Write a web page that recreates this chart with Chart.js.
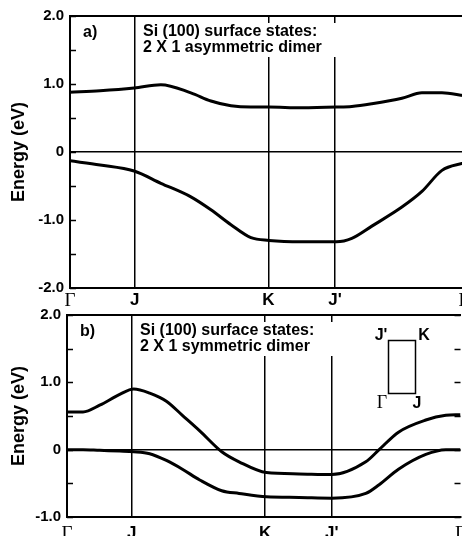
<!DOCTYPE html>
<html>
<head>
<meta charset="utf-8">
<script src="https://cdn.jsdelivr.net/npm/chart.js@4.4.0/dist/chart.umd.min.js"></script>
<style>
  html, body { margin: 0; padding: 0; background: #fff; width: 462px; height: 536px; overflow: hidden; }
  .panel { position: absolute; left: 0; }
  #panelA { top: 0; }
  #panelB { top: 300px; }
</style>
</head>
<body>
<div class="panel" id="panelA"><canvas id="chartA" width="472" height="310"></canvas></div>
<div class="panel" id="panelB"><canvas id="chartB" width="472" height="236"></canvas></div>
<script>
// k-path positions of the symmetry points and their labels
const kPos = [0, 0.97, 2.97, 3.97, 5.9];
const kLabels = ["Γ", "J", "K", "J'", "Γ"];

// a) asymmetric dimer
const asymK     = [0, 0.45, 0.96, 1.36, 1.81, 2.11, 2.41, 2.71, 2.98, 3.46, 3.99, 4.22, 4.52, 4.97, 5.27, 5.57, 5.9];
const asymUpper = [0.88, 0.90, 0.94, 0.99, 0.87, 0.75, 0.68, 0.66, 0.66, 0.65, 0.66, 0.67, 0.71, 0.79, 0.87, 0.87, 0.83];
const asymLower = [-0.13, -0.19, -0.28, -0.46, -0.66, -0.85, -1.07, -1.26, -1.30, -1.32, -1.32, -1.27, -1.09, -0.81, -0.58, -0.27, -0.16];

// b) symmetric dimer
const symK     = [0, 0.24, 0.49, 0.79, 1.0, 1.24, 1.49, 1.73, 1.99, 2.32, 2.58, 2.99, 3.48, 3.97, 4.48, 4.68, 4.97, 5.38, 5.68, 5.9];
const symUpper = [0.56, 0.56, 0.66, 0.82, 0.90, 0.84, 0.72, 0.51, 0.28, -0.03, -0.18, -0.34, -0.36, -0.37, -0.18, 0.0, 0.26, 0.44, 0.51, 0.52];
const symLower = [0.0, 0.0, -0.01, -0.02, -0.03, -0.06, -0.16, -0.29, -0.45, -0.61, -0.65, -0.70, -0.71, -0.72, -0.65, -0.52, -0.29, -0.07, 0.0, 0.0];

const SANS = "'Liberation Sans', Arial, sans-serif";
const SERIF = "'Liberation Serif', 'Times New Roman', serif";

function band(k, e) {
  return {
    data: k.map((x, i) => ({ x: x, y: e[i] })),
    borderColor: "#000",
    borderWidth: 3,
    pointRadius: 0,
    fill: false,
    cubicInterpolationMode: "monotone",
  };
}

// panel texts, minor ticks, inset
function decor(o) {
  return {
    id: "decor",
    afterDraw(chart) {
      const { ctx, chartArea: a, scales: { y } } = chart;
      ctx.save();
      ctx.strokeStyle = "#000";
      ctx.lineWidth = 1.5;
      for (let v = y.min; v <= y.max + 1e-6; v += 0.5) {
        const py = Math.round(y.getPixelForValue(v)) + 0.5;
        ctx.beginPath();
        ctx.moveTo(a.left, py); ctx.lineTo(a.left + 6, py);
        if (o.rightTicks) { ctx.moveTo(a.right, py); ctx.lineTo(a.right - 6, py); }
        ctx.stroke();
      }
      ctx.fillStyle = "#fff";
      ctx.fillRect(a.left + 68, a.top + 7, 202, 34);
      ctx.fillStyle = "#000";
      ctx.font = "bold 16px " + SANS;
      ctx.textBaseline = "middle";
      ctx.textAlign = "left";
      ctx.fillText(o.tag, a.left + 13, a.top + 17);
      ctx.fillText("Si (100) surface states:", a.left + 73, a.top + 16);
      ctx.fillText(o.sub, a.left + 73, a.top + 32);
      if (o.inset) {
        ctx.lineWidth = 1.5;
        ctx.strokeRect(a.left + 321.5, a.top + 25.5, 27, 53);
        ctx.textAlign = "center";
        ctx.font = "bold 16px " + SANS;
        ctx.fillText("J'", a.left + 314, a.top + 21);
        ctx.fillText("K", a.left + 357, a.top + 21);
        ctx.fillText("J", a.left + 350, a.top + 89);
        ctx.font = "18px " + SERIF;
        ctx.fillText("Γ", a.left + 315, a.top + 88);
      }
      ctx.restore();
    },
  };
}

function makePanel(id, o) {
  return new Chart(document.getElementById(id), {
    type: "line",
    data: { datasets: [band(o.k, o.upper), band(o.k, o.lower)] },
    options: {
      responsive: false,
      devicePixelRatio: 1,
      animation: false,
      layout: { padding: { top: o.padTop, left: 0, right: 8, bottom: 0 } },
      plugins: { legend: { display: false }, tooltip: { enabled: false } },
      scales: {
        x: {
          type: "linear", min: 0, max: kPos[kPos.length - 1],
          afterBuildTicks: s => { s.ticks = kPos.map(v => ({ value: v })); },
          afterFit: s => { s.height = o.xH; },
          grid: {
            drawTicks: false, lineWidth: 1.5,
            color: c => (c.index > 0 && c.index < kPos.length - 1) ? "#000" : "rgba(0,0,0,0)",
          },
          border: { color: "#000", width: 2 },
          ticks: {
            autoSkip: false, maxRotation: 0, padding: o.xPad, color: "#000",
            callback: (v, i) => kLabels[i],
            font: c => kLabels[c.index] === "Γ"
              ? { family: SERIF, size: 19 }
              : { family: SANS, size: 17, weight: "bold" },
          },
        },
        xTop: {
          axis: "x", type: "linear", position: "top", min: 0, max: kPos[kPos.length - 1],
          afterFit: s => { s.height = 0; },
          ticks: { display: false },
          grid: { display: false },
          border: { color: "#000", width: 2 },
        },
        y: {
          min: o.yMin, max: o.yMax,
          afterFit: s => { s.width = o.leftW; },
          grid: {
            drawTicks: false, lineWidth: 1.5,
            color: c => c.tick.value === 0 ? "#000" : "rgba(0,0,0,0)",
          },
          border: { color: "#000", width: 2 },
          ticks: {
            stepSize: 1, padding: 6, color: "#000",
            font: { family: SANS, size: 15, weight: "bold" },
            callback: v => v === 0 ? "0" : v.toFixed(1),
          },
          title: {
            display: true, text: "Energy (eV)", color: "#000",
            font: { family: SANS, size: 18, weight: "bold" },
            padding: { top: 8, bottom: 0 },
          },
        },
      },
    },
    plugins: [decor(o)],
  });
}

makePanel("chartA", {
  k: asymK, upper: asymUpper, lower: asymLower,
  yMin: -2, yMax: 2, padTop: 16, xH: 22, xPad: 2, leftW: 70,
  tag: "a)", sub: "2 X 1 asymmetric dimer", inset: false, rightTicks: false,
});
makePanel("chartB", {
  k: symK, upper: symUpper, lower: symLower,
  yMin: -1, yMax: 2, padTop: 14, xH: 19, xPad: 6, leftW: 67,
  tag: "b)", sub: "2 X 1 symmetric dimer", inset: true, rightTicks: true,
});
</script>
</body>
</html>
